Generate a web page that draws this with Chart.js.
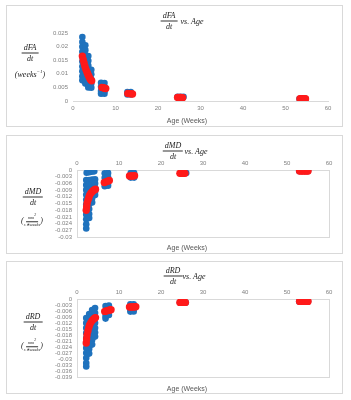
<!DOCTYPE html>
<html>
<head>
<meta charset="utf-8">
<script src="https://cdn.jsdelivr.net/npm/chart.js@4.4.1/dist/chart.umd.min.js"></script>
<style>
  body { margin: 0; background: #fff; width: 351px; height: 400px; position: relative; overflow: hidden; font-family: "Liberation Sans", Arial, sans-serif; }
  .box { position: absolute; left: 6px; width: 337px; border: 1px solid #d9d9d9; box-sizing: border-box; }
  canvas { position: absolute; left: 0; }
  .t { position: absolute; transform: translate(-50%, -50%); white-space: nowrap; }
  .m { font-family: "Liberation Serif", serif; font-style: italic; color: #222; font-size: 8px; }
  .frac { display: inline-flex; flex-direction: column; align-items: center; line-height: 1; vertical-align: middle; }
  .frac .n { border-bottom: 0.8px solid #333; padding: 0 2px 1px; }
  .frac .d { padding-top: 1px; }
  .small { font-size: 4.5px; }
  .ax { font-size: 7px; color: #595959; }
</style>
</head>
<body>

<div class="box" style="top:5px;height:122px"></div>
<div class="box" style="top:135px;height:119px"></div>
<div class="box" style="top:261px;height:133px"></div>

<canvas id="faChart" width="351" height="130" style="top:0"></canvas>
<canvas id="mdChart" width="351" height="130" style="top:130px"></canvas>
<canvas id="rdChart" width="351" height="140" style="top:260px"></canvas>

<!-- panel 1 text -->
<div class="t m" style="left:169px;top:20.5px"><span class="frac"><span class="n">dFA</span><span class="d">dt</span></span></div>
<div class="t m" style="left:192px;top:20.5px">vs. Age</div>
<div class="t m" style="left:30px;top:53px"><span class="frac"><span class="n">dFA</span><span class="d">dt</span></span></div>
<div class="t m" style="left:30px;top:74px">(weeks<sup style="font-size:5px">−1</sup>)</div>
<div class="t ax" style="left:187px;top:120px">Age (Weeks)</div>

<!-- panel 2 text -->
<div class="t m" style="left:173px;top:150.7px"><span class="frac"><span class="n">dMD</span><span class="d">dt</span></span></div>
<div class="t m" style="left:196px;top:150.7px">vs. Age</div>
<div class="t m" style="left:33px;top:196.5px"><span class="frac"><span class="n">dMD</span><span class="d">dt</span></span></div>
<div class="t m" style="left:32px;top:220.5px">(<span class="frac small"><span class="n">mm<sup>2</sup></span><span class="d">s∗weeks</span></span>)</div>
<div class="t ax" style="left:187px;top:247.3px">Age (Weeks)</div>

<!-- panel 3 text -->
<div class="t m" style="left:173px;top:275.7px"><span class="frac"><span class="n">dRD</span><span class="d">dt</span></span></div>
<div class="t m" style="left:194px;top:275.7px">vs. Age</div>
<div class="t m" style="left:33px;top:321.7px"><span class="frac"><span class="n">dRD</span><span class="d">dt</span></span></div>
<div class="t m" style="left:32px;top:346px">(<span class="frac small"><span class="n">mm<sup>2</sup></span><span class="d">s∗weeks</span></span>)</div>
<div class="t ax" style="left:187px;top:388.3px">Age (Weeks)</div>

<script>
const ageTicks = [0, 10, 20, 30, 40, 50, 60]

const faTicks = [0, 0.005, 0.01, 0.015, 0.02, 0.025]
const faTickLabels = ['0', '0.005', '0.01', '0.015', '0.02', '0.025']
const mdTicks = [0, -0.003, -0.006, -0.009, -0.012, -0.015, -0.018, -0.021, -0.024, -0.027, -0.03]
const mdTickLabels = ['0', '-0.003', '-0.006', '-0.009', '-0.012', '-0.015', '-0.018', '-0.021', '-0.024', '-0.027', '-0.03']
const rdTicks = [0, -0.003, -0.006, -0.009, -0.012, -0.015, -0.018, -0.021, -0.024, -0.027, -0.03, -0.033, -0.036, -0.039]
const rdTickLabels = ['0', '-0.003', '-0.006', '-0.009', '-0.012', '-0.015', '-0.018', '-0.021', '-0.024', '-0.027', '-0.03', '-0.033', '-0.036', '-0.039']

// individual subjects (blue), [age, rate]
const faBlue = [
  [2.2,0.0235],[2.2,0.0217],[2.2,0.0199],[2.2,0.0181],[2.2,0.0163],[2.2,0.0145],[2.2,0.0127],[2.2,0.0109],[2.2,0.0091],[2.2,0.0076],
  [2.9,0.0205],[2.9,0.0187],[2.9,0.0169],[2.9,0.0151],[2.9,0.0133],[2.9,0.0115],[2.9,0.0097],[2.9,0.0080],[2.9,0.0064],
  [3.6,0.0165],[3.6,0.0148],[3.6,0.0130],[3.6,0.0112],[3.6,0.0094],[3.6,0.0077],[3.6,0.0061],[3.6,0.0050],
  [4.3,0.0115],[4.3,0.0098],[4.3,0.0080],[4.3,0.0064],[4.3,0.0049],
  [6.6,0.0067],[6.6,0.0052],[6.6,0.0037],[6.6,0.0027],[7.4,0.0066],[7.4,0.0051],[7.4,0.0036],[7.4,0.0027],
  [12.8,0.0033],[12.8,0.0024],[13.6,0.0033],[13.6,0.0024],
  [24.6,0.0015],[25.3,0.0015],[26.0,0.0015],
  [53.3,0.0008],[54.0,0.0008],[54.7,0.0008]
]
// group mean (red)
const faRed = [
  [2.2,0.0165],[2.4,0.0152],[2.6,0.0140],[2.8,0.0128],[3.0,0.0118],[3.2,0.0110],[3.4,0.0102],[3.6,0.0095],[3.8,0.0088],[4.0,0.0082],[4.2,0.0077],[4.4,0.0074],
  [6.8,0.0050],[7.1,0.0049],[7.4,0.0047],[7.7,0.0046],
  [12.9,0.0028],[13.3,0.0027],[13.7,0.0027],[14.0,0.0026],
  [24.6,0.0013],[25.0,0.0013],[25.4,0.0013],[25.8,0.0012],
  [53.4,0.0008],[53.7,0.0008],[54.0,0.0008],[54.4,0.0008],[54.7,0.0008]
]

const mdBlue = [
  [2.3,-0.0012],[2.9,-0.0010],[3.5,-0.0008],[4.1,-0.0006],
  [2.2,-0.0045],[2.2,-0.0067],[2.2,-0.0089],[2.2,-0.0111],[2.2,-0.0133],[2.2,-0.0155],[2.2,-0.0177],[2.2,-0.0199],[2.2,-0.0221],[2.2,-0.0243],[2.2,-0.0262],
  [2.9,-0.0045],[2.9,-0.0065],[2.9,-0.0087],[2.9,-0.0109],[2.9,-0.0131],[2.9,-0.0153],[2.9,-0.0175],[2.9,-0.0197],[2.9,-0.0215],
  [3.6,-0.0043],[3.6,-0.0062],[3.6,-0.0084],[3.6,-0.0106],[3.6,-0.0126],[3.6,-0.0145],
  [4.3,-0.0042],[4.3,-0.0060],[4.3,-0.0080],[4.3,-0.0098],[4.3,-0.0112],
  [6.6,-0.0015],[6.6,-0.0035],[6.6,-0.0055],[6.6,-0.0073],[7.4,-0.0013],[7.4,-0.0033],[7.4,-0.0053],[7.4,-0.0070],
  [12.8,-0.0013],[12.8,-0.0034],[13.6,-0.0013],[13.6,-0.0034],
  [24.6,-0.0013],[25.3,-0.0013],[26.0,-0.0013],
  [52.9,-0.0005],[53.6,-0.0005],[54.3,-0.0005],[55.0,-0.0005]
]
const mdRed = [
  [2.2,-0.0180],[2.3,-0.0165],[2.4,-0.0150],[2.6,-0.0136],[2.8,-0.0124],[3.0,-0.0113],[3.3,-0.0104],[3.6,-0.0097],[3.9,-0.0092],[4.2,-0.0088],[4.4,-0.0086],
  [6.5,-0.0056],[6.9,-0.0053],[7.3,-0.0050],[7.7,-0.0047],
  [12.5,-0.0027],[12.9,-0.0027],[13.3,-0.0027],[13.7,-0.0026],
  [24.5,-0.0015],[24.9,-0.0015],[25.3,-0.0015],[25.7,-0.0015],
  [53.0,-0.0005],[53.4,-0.0005],[53.8,-0.0005],[54.2,-0.0005],[54.6,-0.0005],[55.0,-0.0005]
]

const rdBlue = [
  [2.2,-0.0095],[2.2,-0.0120],[2.2,-0.0145],[2.2,-0.0170],[2.2,-0.0195],[2.2,-0.0220],[2.2,-0.0245],[2.2,-0.0270],[2.2,-0.0295],[2.2,-0.0320],[2.2,-0.0337],
  [2.9,-0.0075],[2.9,-0.0100],[2.9,-0.0125],[2.9,-0.0150],[2.9,-0.0175],[2.9,-0.0200],[2.9,-0.0225],[2.9,-0.0250],[2.9,-0.0273],
  [3.6,-0.0055],[3.6,-0.0080],[3.6,-0.0105],[3.6,-0.0130],[3.6,-0.0155],[3.6,-0.0180],[3.6,-0.0205],[3.6,-0.0228],
  [4.3,-0.0045],[4.3,-0.0070],[4.3,-0.0095],[4.3,-0.0120],[4.3,-0.0145],[4.3,-0.0168],[4.3,-0.0188],
  [6.8,-0.0035],[6.8,-0.0060],[6.8,-0.0085],[6.8,-0.0098],[7.6,-0.0033],[7.6,-0.0058],[7.6,-0.0080],
  [12.7,-0.0027],[12.7,-0.0050],[12.7,-0.0063],[13.5,-0.0027],[13.5,-0.0050],[13.5,-0.0062],
  [24.5,-0.0018],[25.2,-0.0018],[25.9,-0.0018],
  [52.9,-0.0012],[53.6,-0.0012],[54.3,-0.0012],[55.0,-0.0012]
]
const rdRed = [
  [2.2,-0.0220],[2.3,-0.0200],[2.4,-0.0180],[2.6,-0.0160],[2.8,-0.0143],[3.0,-0.0130],[3.3,-0.0118],[3.6,-0.0108],[3.9,-0.0101],[4.2,-0.0096],[4.4,-0.0093],
  [6.6,-0.0062],[7.0,-0.0060],[7.4,-0.0057],[7.8,-0.0055],[8.1,-0.0054],
  [12.5,-0.0040],[12.9,-0.0040],[13.3,-0.0040],[13.7,-0.0039],[14.0,-0.0039],
  [24.5,-0.0017],[24.9,-0.0017],[25.3,-0.0017],[25.8,-0.0017],
  [53.0,-0.0012],[53.4,-0.0012],[53.8,-0.0012],[54.2,-0.0012],[54.6,-0.0012],[55.0,-0.0012]
]

const BLUE = '#1f72bd'
const RED = '#ff1a1a'
const TICK = '#808080'
const LINE = '#d9d9d9'

// light rectangle round the plot area (panels 2 and 3)
const framePlugin = {
  id: 'frame',
  beforeDatasetsDraw(chart) {
    const a = chart.chartArea
    const ctx = chart.ctx
    ctx.save()
    ctx.strokeStyle = LINE
    ctx.lineWidth = 1
    ctx.strokeRect(Math.round(a.left) + 0.5, Math.round(a.top) + 0.5, Math.round(a.right - a.left), Math.round(a.bottom - a.top))
    ctx.restore()
  }
}

const toPoints = arr => arr.map(p => ({ x: p[0], y: p[1] }))

function makeChart(id, blue, red, yTicks, yLabels, cfg) {
  new Chart(document.getElementById(id), {
    type: 'scatter',
    data: {
      datasets: [
        { data: toPoints(red), backgroundColor: RED, borderWidth: 0, pointRadius: 3.7, order: 0 },
        { data: toPoints(blue), backgroundColor: BLUE, borderWidth: 0, pointRadius: 3.3, order: 1 }
      ]
    },
    options: {
      responsive: false,
      animation: false,
      events: [],
      layout: { autoPadding: false, padding: cfg.pad },
      plugins: { legend: { display: false }, tooltip: { enabled: false } },
      scales: {
        x: {
          type: 'linear',
          position: cfg.xPos,
          min: 0,
          max: 60,
          afterBuildTicks: s => { s.ticks = ageTicks.map(v => ({ value: v })) },
          afterFit: s => { s.height = 10 },
          grid: { display: false, drawTicks: false },
          border: { display: true, color: LINE },
          ticks: { font: { size: 6, family: 'Liberation Sans' }, color: TICK, padding: cfg.xPad, maxRotation: 0, autoSkip: false }
        },
        y: {
          min: Math.min(...yTicks),
          max: Math.max(...yTicks),
          afterBuildTicks: s => { s.ticks = yTicks.map(v => ({ value: v })) },
          afterFit: s => { s.width = 30 },
          grid: { display: false, drawTicks: false },
          border: { display: false },
          ticks: {
            font: { size: 6, family: 'Liberation Sans' },
            color: TICK,
            padding: 5,
            autoSkip: false,
            callback: (v, i) => yLabels[i]
          }
        }
      }
    },
    plugins: cfg.frame ? [framePlugin] : []
  })
}

makeChart('faChart', faBlue, faRed, faTicks, faTickLabels, {
  pad: { left: 43, right: 23, top: 33, bottom: 19 }, xPos: 'bottom', xPad: 4, frame: false
})
makeChart('mdChart', mdBlue, mdRed, mdTicks, mdTickLabels, {
  pad: { left: 47, right: 22, top: 30, bottom: 23 }, xPos: 'top', xPad: 3, frame: true
})
makeChart('rdChart', rdBlue, rdRed, rdTicks, rdTickLabels, {
  pad: { left: 47, right: 22, top: 29, bottom: 23 }, xPos: 'top', xPad: 3, frame: true
})
</script>
</body>
</html>
